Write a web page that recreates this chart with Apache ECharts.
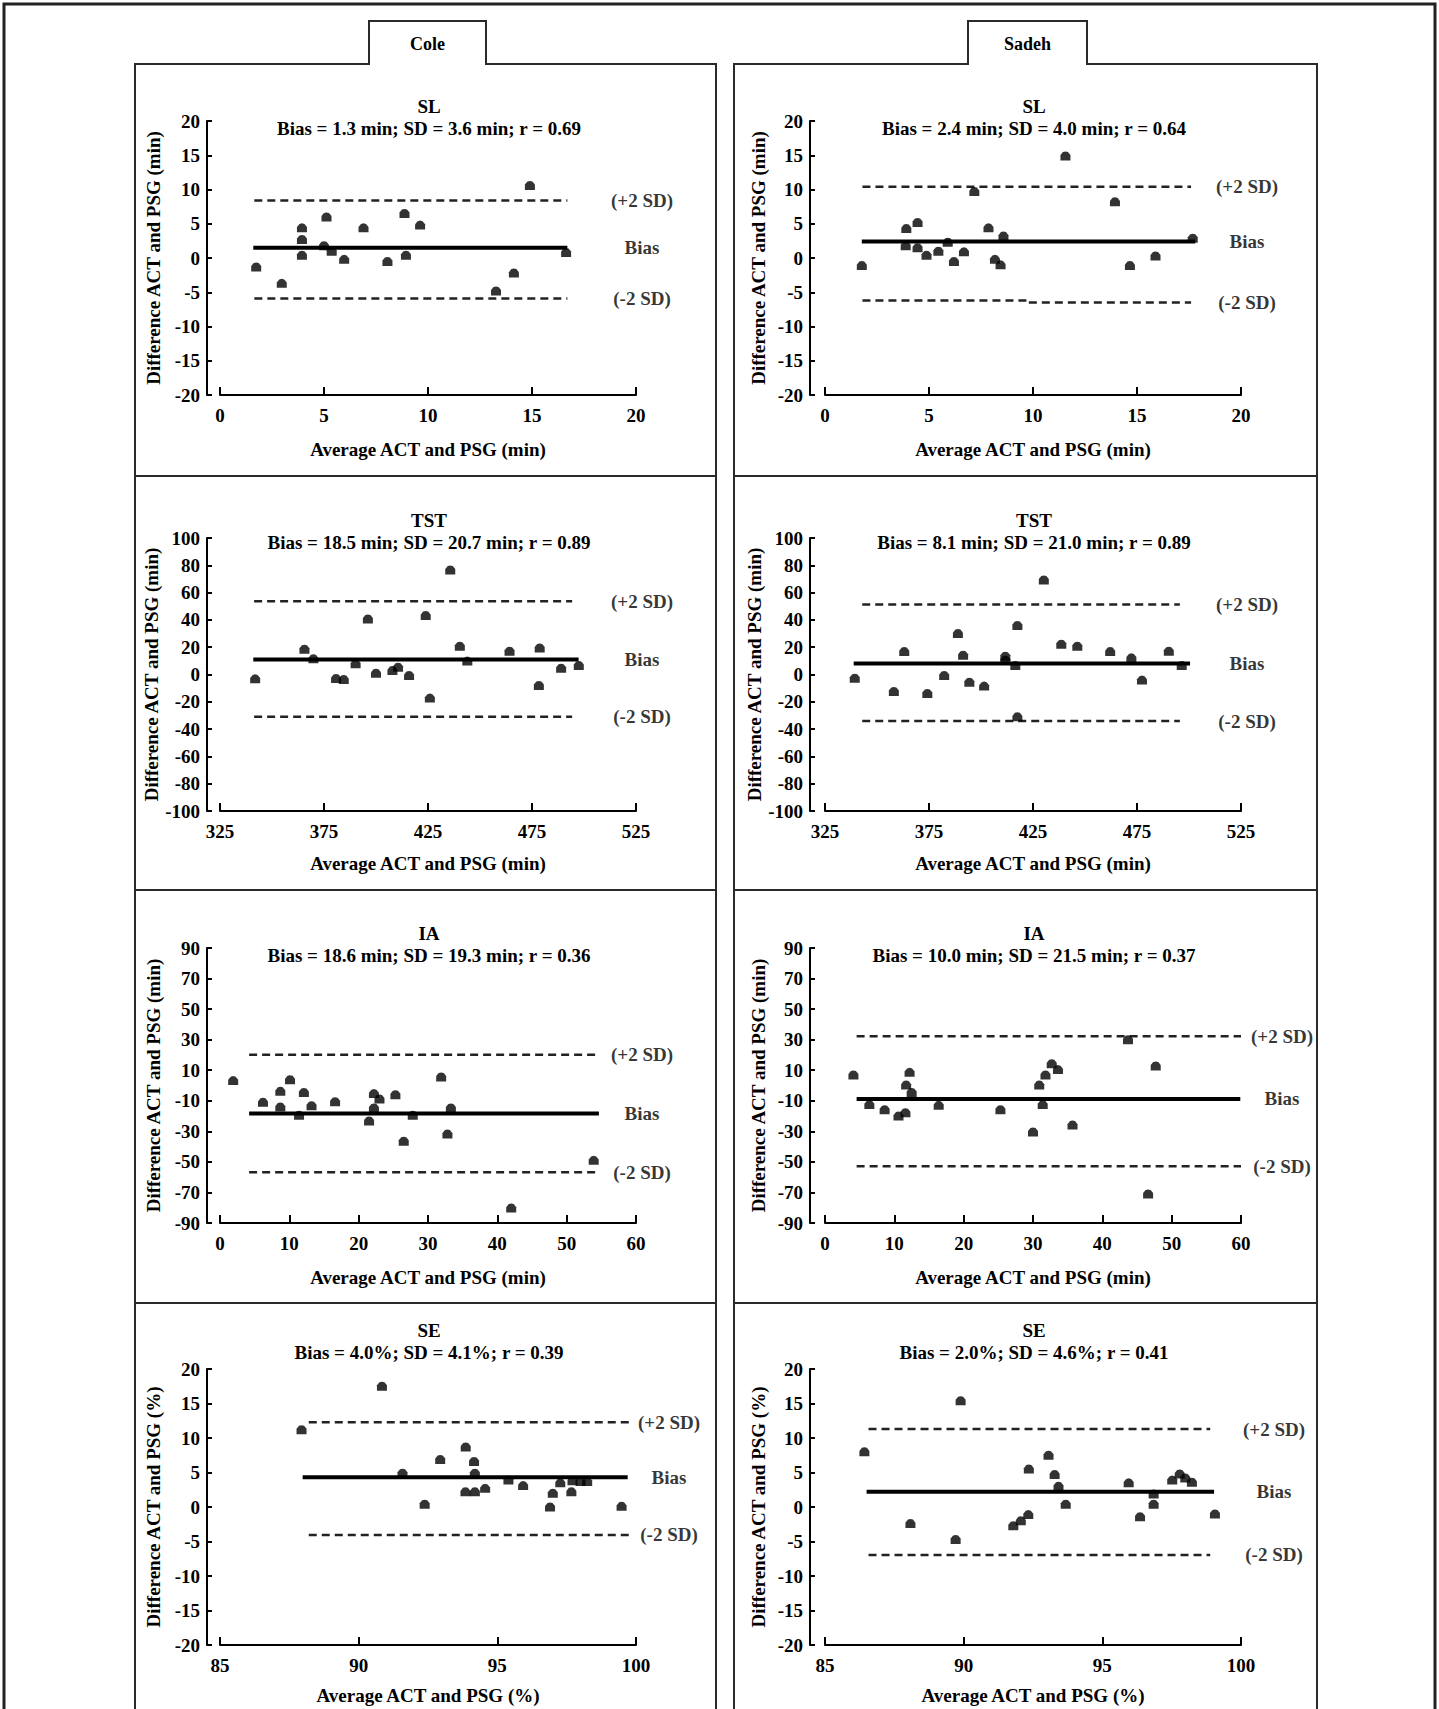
<!DOCTYPE html>
<html><head><meta charset="utf-8">
<script src="https://cdn.jsdelivr.net/npm/echarts@6/dist/echarts.min.js"></script>
<style>html,body{margin:0;padding:0;background:#fff}#c{width:1439px;height:1709px}</style>
</head><body><div id="c"></div><script>
// ---------- tick labels ----------
const xTicksSL = [0, 5, 10, 15, 20];
const yTicksSL = [-20, -15, -10, -5, 0, 5, 10, 15, 20];
const xTicksTST = [325, 375, 425, 475, 525];
const yTicksTST = [-100, -80, -60, -40, -20, 0, 20, 40, 60, 80, 100];
const xTicksIA = [0, 10, 20, 30, 40, 50, 60];
const yTicksIA = [-90, -70, -50, -30, -10, 10, 30, 50, 70, 90];
const xTicksSE = [85, 90, 95, 100];
const yTicksSE = [-20, -15, -10, -5, 0, 5, 10, 15, 20];

const groupNames = ['Cole', 'Sadeh'];
const xNameMin = 'Average ACT and PSG (min)';
const xNamePct = 'Average ACT and PSG (%)';
const yNameMin = 'Difference ACT and PSG (min)';
const yNamePct = 'Difference ACT and PSG (%)';
const limitLabels = ['(+2 SD)', 'Bias', '(-2 SD)'];

// ---------- Cole SL ----------
const coleSLStats = 'Bias = 1.3 min; SD = 3.6 min; r = 0.69';
const coleSLAvg  = [1.74, 2.97, 3.94, 3.94, 3.94, 5.0, 5.12, 5.37, 5.97, 6.9, 8.05, 8.87, 8.94, 9.62, 13.27, 14.13, 14.9, 16.64];
const coleSLDiff = [-1.3, -3.7, 4.4, 2.7, 0.4, 1.8, 6.0, 1.0, -0.2, 4.4, -0.5, 6.5, 0.4, 4.8, -4.8, -2.2, 10.6, 0.8];
const coleSLLevels = [1.5, 8.4, -5.9];      // bias, +2SD, -2SD
const coleSLBiasSpan = [1.6, 16.7];
const coleSLSdSpan = [1.65, 16.7];

// ---------- Sadeh SL ----------
const sadehSLStats = 'Bias = 2.4 min; SD = 4.0 min; r = 0.64';
const sadehSLAvg  = [1.77, 3.91, 3.88, 4.45, 4.45, 4.88, 5.45, 5.9, 6.2, 6.68, 7.18, 7.86, 8.17, 8.44, 8.58, 11.56, 13.94, 14.66, 15.89, 17.68];
const sadehSLDiff = [-1.1, 4.3, 1.8, 5.2, 1.5, 0.4, 1.0, 2.3, -0.5, 0.9, 9.7, 4.4, -0.2, -1.0, 3.2, 14.9, 8.2, -1.1, 0.3, 2.9];
const sadehSLLevels = [2.4, 10.4, -6.2];
const sadehSLBiasSpan = [1.77, 17.8];
const sadehSLSdSpan = [1.8, 17.6];
const sadehSLLowerStep = [9.8, -6.5];       // x where -2SD line steps, new value

// ---------- Cole TST ----------
const coleTSTStats = 'Bias = 18.5 min; SD = 20.7 min; r = 0.89';
const coleTSTAvg  = [341.9, 365.6, 369.9, 380.8, 384.5, 390.2, 396.1, 400.0, 407.9, 410.6, 415.9, 423.9, 425.9, 435.7, 440.3, 443.9, 464.2, 478.3, 478.7, 489.0, 497.5];
const coleTSTDiff = [-3.2, 18.5, 11.5, -2.9, -3.7, 7.8, 40.7, 1.0, 2.9, 5.4, -0.7, 43.2, -17.3, 76.6, 20.7, 9.8, 17.1, -8.0, 19.5, 4.6, 6.6];
const coleTSTLevels = [11.0, 53.7, -31.0];
const coleTSTBiasSpan = [341, 497.4];
const coleTSTSdSpan = [341.4, 494.3];

// ---------- Sadeh TST ----------
const sadehTSTStats = 'Bias = 8.1 min; SD = 21.0 min; r = 0.89';
const sadehTSTAvg  = [339.3, 358.1, 363.1, 374.2, 382.3, 388.9, 391.4, 394.4, 401.5, 411.7, 411.7, 416.5, 417.5, 417.5, 430.2, 438.6, 446.3, 462.1, 472.3, 477.4, 490.3, 496.5];
const sadehTSTDiff = [-2.7, -12.4, 16.8, -13.9, -0.7, 30.0, 14.1, -5.6, -8.5, 13.4, 10.5, 6.6, 35.9, -31.0, 69.3, 22.2, 20.7, 16.8, 12.2, -4.1, 17.1, 6.6];
const sadehTSTLevels = [8.0, 51.2, -34.1];
const sadehTSTBiasSpan = [338.8, 500.5];
const sadehTSTSdSpan = [342.9, 495.6];

// ---------- Cole IA ----------
const coleIAStats = 'Bias = 18.6 min; SD = 19.3 min; r = 0.36';
const coleIAAvg  = [1.9, 6.2, 8.7, 8.7, 10.1, 11.4, 12.1, 13.2, 16.6, 21.5, 22.2, 22.2, 23.0, 25.3, 26.5, 27.8, 31.9, 32.8, 33.3, 42.0, 53.9];
const coleIADiff = [3.2, -11.0, -3.8, -14.1, 3.8, -19.5, -4.5, -13.2, -10.6, -23.2, -5.3, -14.7, -8.8, -6.0, -36.5, -19.5, 5.6, -31.8, -14.7, -80.2, -49.0];
const coleIALevels = [-18.4, 20.2, -56.8];
const coleIABiasSpan = [4.2, 54.65];
const coleIASdSpan = [4.2, 54.65];

// ---------- Sadeh IA ----------
const sadehIAStats = 'Bias = 10.0 min; SD = 21.5 min; r = 0.37';
const sadehIAAvg  = [4.1, 6.4, 8.6, 10.6, 11.6, 11.7, 12.2, 12.5, 16.4, 25.3, 30.0, 30.9, 31.4, 31.8, 32.7, 33.6, 35.7, 43.7, 46.6, 47.7];
const sadehIADiff = [6.9, -12.5, -15.8, -20.0, -17.8, 0.3, 8.6, -4.5, -13.0, -15.8, -30.4, 0.3, -12.5, 6.9, 14.3, 10.4, -25.9, 30.0, -71.0, 12.8];
const sadehIALevels = [-8.8, 32.2, -52.9];
const sadehIABiasSpan = [4.56, 59.9];
const sadehIASdSpan = [4.56, 60.0];

// ---------- Cole SE ----------
const coleSEStats = 'Bias = 4.0%; SD = 4.1%; r = 0.39';
const coleSEAvg  = [87.94, 90.84, 91.58, 92.38, 92.94, 93.86, 93.85, 94.16, 94.19, 94.19, 94.56, 95.40, 95.93, 96.90, 97.0, 97.27, 97.67, 97.71, 98.0, 98.24, 99.48];
const coleSEDiff = [11.2, 17.5, 4.9, 0.4, 6.9, 8.7, 2.2, 6.6, 4.9, 2.2, 2.7, 3.9, 3.1, 0.0, 2.0, 3.5, 2.2, 3.8, 3.7, 3.7, 0.1];
const coleSELevels = [4.3, 12.3, -4.05];
const coleSEBiasSpan = [87.98, 99.7];
const coleSESdSpan = [88.2, 99.8];

// ---------- Sadeh SE ----------
const sadehSEStats = 'Bias = 2.0%; SD = 4.6%; r = 0.41';
const sadehSEAvg  = [86.42, 88.08, 89.71, 89.89, 91.79, 92.06, 92.33, 92.35, 93.06, 93.28, 93.42, 93.68, 95.95, 96.36, 96.85, 96.85, 97.52, 97.79, 97.99, 98.23, 99.06];
const sadehSEDiff = [8.0, -2.4, -4.7, 15.4, -2.7, -2.0, -1.1, 5.5, 7.5, 4.7, 3.0, 0.4, 3.5, -1.4, 1.9, 0.4, 3.9, 4.8, 4.2, 3.6, -1.0];
const sadehSELevels = [2.2, 11.3, -6.95];
const sadehSEBiasSpan = [86.5, 99.03];
const sadehSESdSpan = [86.57, 98.89];

// ---------- panel list (data references only) ----------
const panels = [
  {col:0,row:0,metric:'SL', stats:coleSLStats, avg:coleSLAvg, diff:coleSLDiff, lv:coleSLLevels, bs:coleSLBiasSpan, ss:coleSLSdSpan, xt:xTicksSL, yt:yTicksSL, pct:false},
  {col:1,row:0,metric:'SL', stats:sadehSLStats, avg:sadehSLAvg, diff:sadehSLDiff, lv:sadehSLLevels, bs:sadehSLBiasSpan, ss:sadehSLSdSpan, xt:xTicksSL, yt:yTicksSL, pct:false, step:sadehSLLowerStep},
  {col:0,row:1,metric:'TST', stats:coleTSTStats, avg:coleTSTAvg, diff:coleTSTDiff, lv:coleTSTLevels, bs:coleTSTBiasSpan, ss:coleTSTSdSpan, xt:xTicksTST, yt:yTicksTST, pct:false},
  {col:1,row:1,metric:'TST', stats:sadehTSTStats, avg:sadehTSTAvg, diff:sadehTSTDiff, lv:sadehTSTLevels, bs:sadehTSTBiasSpan, ss:sadehTSTSdSpan, xt:xTicksTST, yt:yTicksTST, pct:false},
  {col:0,row:2,metric:'IA', stats:coleIAStats, avg:coleIAAvg, diff:coleIADiff, lv:coleIALevels, bs:coleIABiasSpan, ss:coleIASdSpan, xt:xTicksIA, yt:yTicksIA, pct:false},
  {col:1,row:2,metric:'IA', stats:sadehIAStats, avg:sadehIAAvg, diff:sadehIADiff, lv:sadehIALevels, bs:sadehIABiasSpan, ss:sadehIASdSpan, xt:xTicksIA, yt:yTicksIA, pct:false},
  {col:0,row:3,metric:'SE', stats:coleSEStats, avg:coleSEAvg, diff:coleSEDiff, lv:coleSELevels, bs:coleSEBiasSpan, ss:coleSESdSpan, xt:xTicksSE, yt:yTicksSE, pct:true},
  {col:1,row:3,metric:'SE', stats:sadehSEStats, avg:sadehSEAvg, diff:sadehSEDiff, lv:sadehSELevels, bs:sadehSEBiasSpan, ss:sadehSESdSpan, xt:xTicksSE, yt:yTicksSE, pct:true}
];

// ---------- layout (pixels / styles) ----------
const COLS = [
  {left:220, width:416, yAxisX:207, center:429, yNameGap:44, tab:[369,486]},
  {left:825, width:416, yAxisX:810, center:1034, yNameGap:42, tab:[968,1087]}
];
const ROWS = [
  {top:121, height:274, titleY:106, xNameGap:45},
  {top:538, height:273, titleY:520, xNameGap:43},
  {top:948, height:275, titleY:933, xNameGap:45},
  {top:1369, height:276, titleY:1330, xNameGap:41}
];
const labelDx = [6, 6, 6, 6, 6, 41, 33, 33];
const FONT = '"Liberation Serif","Times New Roman",serif';
const INK = '#000';
const HOUSE = 'path://M0,10L0,4L2.5,0.6L5,0L7.5,0.6L10,4L10,10Z';
const FS = 19;

const grids = [], xAxes = [], yAxes = [], series = [], graphics = [];
const txt = (size) => ({fontFamily: FONT, fontWeight: 'bold', fontSize: size, color: INK});

panels.forEach((p, i) => {
  const C = COLS[p.col], R = ROWS[p.row];
  grids.push({left: C.left, top: R.top, width: C.width, height: R.height, containLabel: false, outerBoundsMode: 'none'});
  xAxes.push({
    type: 'value', gridIndex: i, position: 'bottom',
    min: p.xt[0], max: p.xt[p.xt.length - 1], interval: p.xt[1] - p.xt[0],
    name: p.pct ? xNamePct : xNameMin, nameLocation: 'middle', nameGap: R.xNameGap,
    nameTextStyle: txt(FS),
    axisLine: {show: true, onZero: false, lineStyle: {color: INK, width: 2}},
    axisTick: {show: true, inside: true, length: 8, lineStyle: {color: INK, width: 2}},
    axisLabel: Object.assign({margin: 11, showMinLabel: true, showMaxLabel: true, hideOverlap: false}, txt(FS)),
    splitLine: {show: false}
  });
  yAxes.push({
    type: 'value', gridIndex: i, position: 'left', offset: C.left - C.yAxisX,
    min: p.yt[0], max: p.yt[p.yt.length - 1], interval: p.yt[1] - p.yt[0],
    name: p.pct ? yNamePct : yNameMin, nameLocation: 'middle', nameGap: C.yNameGap,
    nameTextStyle: txt(FS),
    axisLine: {show: true, onZero: false, lineStyle: {color: INK, width: 2}},
    axisTick: {show: true, inside: true, length: 5, lineStyle: {color: INK, width: 2}},
    axisLabel: Object.assign({margin: 7, showMinLabel: true, showMaxLabel: true, hideOverlap: false}, txt(FS)),
    splitLine: {show: false}
  });
  const base = {xAxisIndex: i, yAxisIndex: i, silent: true, animation: false};
  // bias line
  series.push(Object.assign({type: 'line', symbol: 'none', z: 2,
    data: [[p.bs[0], p.lv[0]], [p.bs[1], p.lv[0]]],
    lineStyle: {color: '#000', width: 4}}, base));
  // +2SD
  const dash = {color: '#222', width: 2.5, type: [8, 5]};
  series.push(Object.assign({type: 'line', symbol: 'none', z: 2,
    data: [[p.ss[0], p.lv[1]], [p.ss[1], p.lv[1]]], lineStyle: dash}, base));
  // -2SD
  if (p.step) {
    series.push(Object.assign({type: 'line', symbol: 'none', z: 2,
      data: [[p.ss[0], p.lv[2]], [p.step[0], p.lv[2]]], lineStyle: dash}, base));
    series.push(Object.assign({type: 'line', symbol: 'none', z: 2,
      data: [[p.step[0], p.step[1]], [p.ss[1], p.step[1]]], lineStyle: dash}, base));
  } else {
    series.push(Object.assign({type: 'line', symbol: 'none', z: 2,
      data: [[p.ss[0], p.lv[2]], [p.ss[1], p.lv[2]]], lineStyle: dash}, base));
  }
  // points
  series.push(Object.assign({type: 'scatter', z: 3, symbol: HOUSE, symbolSize: [10, 9],
    itemStyle: {color: '#000'}, data: p.avg.map((x, k) => [x, p.diff[k]])}, base));
  // right-hand labels
  const xMax = p.xt[p.xt.length - 1];
  const lowerY = p.step ? p.step[1] : p.lv[2];
  series.push(Object.assign({type: 'scatter', z: 4, symbolSize: 1, clip: false,
    itemStyle: {color: 'rgba(0,0,0,0)'},
    data: [
      {name: limitLabels[0], value: [xMax, p.lv[1]]},
      {name: limitLabels[1], value: [xMax, p.lv[0]]},
      {name: limitLabels[2], value: [xMax, lowerY]}
    ],
    label: Object.assign({show: true, position: 'inside', offset: [labelDx[i], 0], align: 'center', verticalAlign: 'middle',
      formatter: (d) => d.name}, txt(FS))}, base));
  // titles
  graphics.push({type: 'text', x: C.center, y: R.titleY, z: 10,
    style: {text: p.metric, font: 'bold ' + FS + 'px ' + FONT, fill: INK, textAlign: 'center', textVerticalAlign: 'middle'}});
  graphics.push({type: 'text', x: C.center, y: R.titleY + 22, z: 10,
    style: {text: p.stats, font: 'bold ' + FS + 'px ' + FONT, fill: INK, textAlign: 'center', textVerticalAlign: 'middle'}});
});

// frames
const frame = {stroke: '#2a2a2a', lineWidth: 2, fill: null};
graphics.push({type: 'rect', shape: {x: 4, y: 4, width: 1431, height: 1730}, style: {stroke: '#222', lineWidth: 3, fill: null}});
const colBox = [[135, 716], [734, 1317]];
colBox.forEach((b, c) => {
  const t = COLS[c].tab;
  graphics.push({type: 'polyline', shape: {points: [[b[0], 1712], [b[0], 64], [t[0], 64], [t[0], 21], [t[1], 21], [t[1], 64], [b[1], 64], [b[1], 1712]]}, style: frame});
  [476, 890, 1303].forEach(y => graphics.push({type: 'line', shape: {x1: b[0], y1: y, x2: b[1], y2: y}, style: frame}));
  graphics.push({type: 'text', x: (t[0] + t[1]) / 2, y: 44,
    style: {text: groupNames[c], font: 'bold 18px ' + FONT, fill: INK, textAlign: 'center', textVerticalAlign: 'middle'}});
});

const chart = echarts.init(document.getElementById('c'), null, {renderer: 'svg'});
chart.setOption({
  animation: false,
  backgroundColor: '#ffffff',
  grid: grids, xAxis: xAxes, yAxis: yAxes, series: series,
  graphic: graphics
});
</script></body></html>
